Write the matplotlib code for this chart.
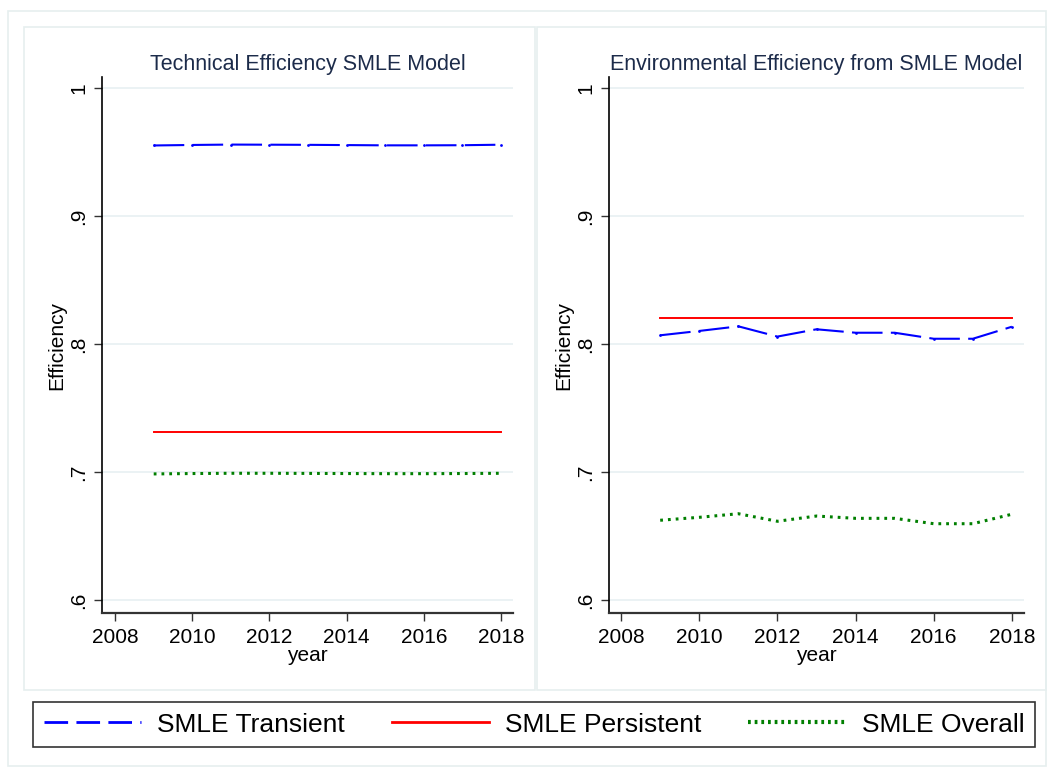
import matplotlib
matplotlib.use("Agg")
import matplotlib.pyplot as plt
from matplotlib.lines import Line2D
from matplotlib.patches import Rectangle

plt.rcParams['font.family'] = ['Liberation Sans', 'DejaVu Sans']
plt.rcParams['lines.scale_dashes'] = False

years = [2009, 2010, 2011, 2012, 2013, 2014, 2015, 2016, 2017, 2018]

# Technical efficiency (left panel)
te_transient = [0.9551, 0.9555, 0.9558, 0.9557, 0.9556, 0.9554, 0.9552, 0.9552, 0.9553, 0.9557]
te_persistent = [0.7312] * 10
te_overall = [0.6985, 0.6988, 0.6990, 0.6990, 0.6989, 0.6988, 0.6987, 0.6987, 0.6988, 0.6990]

# Environmental efficiency (right panel)
ee_transient = [0.8068, 0.8102, 0.8138, 0.8058, 0.8115, 0.8088, 0.8088, 0.8041, 0.8041, 0.8135]
ee_persistent = [0.8203] * 10
ee_overall = [0.6623, 0.6646, 0.6674, 0.6615, 0.6656, 0.6638, 0.6638, 0.6596, 0.6596, 0.6670]

yticks = [0.6, 0.7, 0.8, 0.9, 1.0]
ytick_labels = [".6", ".7", ".8", ".9", "1"]
xticks = [2008, 2010, 2012, 2014, 2016, 2018]

titles = ["Technical Efficiency SMLE Model", "Environmental Efficiency from SMLE Model"]
legend_labels = ["SMLE Transient", "SMLE Persistent", "SMLE Overall"]

BLUE = "#0000ff"
RED = "#ff0000"
GREEN = "#007f00"
TITLE_C = "#1c2b4a"
PANEL_C = "#e6efef"

W, H = 1047, 767
fig = plt.figure(figsize=(W / 100, H / 100), dpi=100)
fig.patch.set_facecolor("white")

def frect(x0, y0, x1, y1, **kw):
    r = Rectangle((x0 / W, 1 - y1 / H), (x1 - x0) / W, (y1 - y0) / H,
                  transform=fig.transFigure, fill=False, **kw)
    fig.add_artist(r)

frect(8, 11, 1046, 766, edgecolor=PANEL_C, linewidth=1.2)
frect(24, 27, 535, 690, edgecolor=PANEL_C, linewidth=1.2)
frect(537, 27, 1046, 690, edgecolor=PANEL_C, linewidth=1.2)

axes_px = [(102, 513, 2007.66, 2018.31), (609, 1024, 2007.69, 2018.31)]
top_px, bot_px = 77, 613
ylim = (0.6 - (bot_px - 600) / 1280, 1.0 + (88 - top_px) / 1280)

data = [(te_transient, te_persistent, te_overall), (ee_transient, ee_persistent, ee_overall)]

for i, (x0, x1, xl, xr) in enumerate(axes_px):
    ax = fig.add_axes([x0 / W, 1 - bot_px / H, (x1 - x0) / W, (bot_px - top_px) / H])
    tr, pe, ov = data[i]
    ax.plot(years, tr, color=BLUE, lw=1.5, dashes=(22, 6), marker='o', ms=2.0,
            markeredgewidth=0, zorder=3)
    ax.plot(years, pe, color=RED, lw=1.4, zorder=3)
    ax.plot(years, ov, color=GREEN, lw=2.2, dashes=(2.0, 3.6), zorder=3)
    ax.set_xlim(xl, xr)
    ax.set_ylim(*ylim)
    ax.set_yticks(yticks)
    ax.set_yticklabels(ytick_labels, rotation=90, va='center', fontsize=15)
    ax.set_xticks(xticks)
    ax.set_xticklabels([str(x) for x in xticks], fontsize=15)
    ax.grid(axis='y', color="#e8f0f2", lw=1.2)
    ax.set_axisbelow(True)
    for s in ("top", "right"):
        ax.spines[s].set_visible(False)
    ax.spines["left"].set_color("black")
    ax.spines["bottom"].set_color("#333333")
    ax.spines["left"].set_linewidth(1.2)
    ax.spines["bottom"].set_linewidth(1.6)
    ax.tick_params(axis='both', length=6, width=1, color="#333333")
    ax.tick_params(axis='x', pad=5)
    ax.tick_params(axis='y', pad=4)
    ax.set_xlabel("year", fontsize=15, labelpad=-1)
    ax.set_ylabel("Efficiency", fontsize=15, labelpad=2)
    ax.set_title(titles[i], fontsize=15.5, color=TITLE_C, pad=5)

handles = [
    Line2D([], [], color=BLUE, lw=2, dashes=(17, 6)),
    Line2D([], [], color=RED, lw=2),
    Line2D([], [], color=GREEN, lw=3, dashes=(2, 2.8)),
]
leg = fig.legend(handles, legend_labels, loc='center', ncol=3,
                 bbox_to_anchor=(33 / W, 1 - 749 / H, (1035 - 33) / W, (749 - 700) / H),
                 mode='expand', fontsize=19, frameon=True, fancybox=False,
                 handlelength=3.7, handletextpad=0.6, columnspacing=2.0,
                 borderpad=0.4, borderaxespad=0, shadow=False)
leg.get_frame().set_edgecolor("black")
leg.get_frame().set_linewidth(1.2)

fig.savefig("out.png", dpi=100)
